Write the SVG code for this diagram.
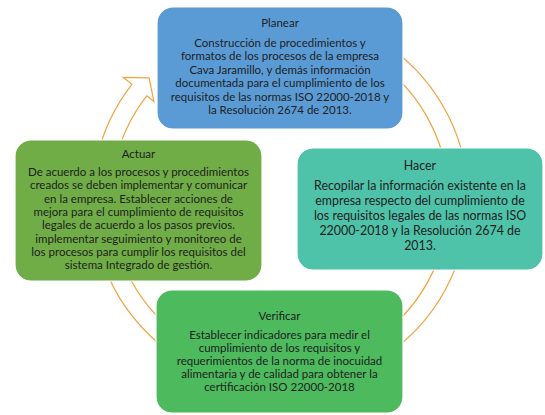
<svg xmlns="http://www.w3.org/2000/svg" width="545" height="415" viewBox="0 0 545 415">
<style>
.box{stroke:#ffffff;stroke-width:1.2}
.t{font-family:Lato,"Liberation Sans",sans-serif;fill:#1e1e1e;text-anchor:middle}
.s1{font-size:11.5px}
.s2{font-size:12.4px}
.ring{fill:#ffffff;stroke:#f4a340;stroke-width:1.2;stroke-linejoin:miter}
</style>
<rect width="545" height="415" fill="#ffffff"/>
<g id="connectors">
<path class="ring" d="M 215.7 23.3 A 188 188 0 1 1 131.9 84.3 L 123.2 77.5 L 149.1 77.9 L 153.9 101.5 L 146.8 95.9 A 169 169 0 1 0 222.2 41.2 Z"/>
</g>
<g id="planear">
<rect class="box" x="157" y="7" width="246" height="122" rx="16" fill="#5b9bd5"/>
<text class="t s1" x="280" y="27">Planear</text>
<text class="t s1" x="280" y="47">Construcción de procedimientos y</text>
<text class="t s1" x="280" y="60.4">formatos de los procesos de la empresa</text>
<text class="t s1" x="280" y="73.8">Cava Jaramillo, y demás información</text>
<text class="t s1" x="280" y="87.2">documentada para el cumplimiento de los</text>
<text class="t s1" x="280" y="100.6">requisitos de las normas ISO 22000-2018 y</text>
<text class="t s1" x="280" y="114">la Resolución 2674 de 2013.</text>
</g>
<g id="hacer">
<rect class="box" x="297" y="148" width="246" height="122" rx="16" fill="#4ec3aa"/>
<text class="t s2" x="420" y="170">Hacer</text>
<text class="t s2" x="420" y="190">Recopilar la información existente en la</text>
<text class="t s2" x="420" y="205">empresa respecto del cumplimiento de</text>
<text class="t s2" x="420" y="220">los requisitos legales de las normas ISO</text>
<text class="t s2" x="420" y="235">22000-2018 y la Resolución 2674 de</text>
<text class="t s2" x="420" y="250">2013.</text>
</g>
<g id="actuar">
<rect class="box" x="15" y="140" width="247" height="141" rx="16" fill="#70ad47"/>
<text class="t s1" x="138.5" y="158">Actuar</text>
<text class="t s1" x="138.5" y="176">De acuerdo a los procesos y procedimientos</text>
<text class="t s1" x="138.5" y="189.3">creados se deben implementar y comunicar</text>
<text class="t s1" x="138.5" y="202.6">en la empresa. Establecer acciones de</text>
<text class="t s1" x="138.5" y="215.9">mejora para el cumplimiento de requisitos</text>
<text class="t s1" x="138.5" y="229.2">legales de acuerdo  a los pasos previos.</text>
<text class="t s1" x="138.5" y="242.5">implementar seguimiento y monitoreo de</text>
<text class="t s1" x="138.5" y="255.8">los procesos para cumplir los requisitos del</text>
<text class="t s1" x="138.5" y="269.1">sistema Integrado de gestión.</text>
</g>
<g id="verificar">
<rect class="box" x="156" y="290" width="247" height="123" rx="16" fill="#4dba5e"/>
<text class="t s1" x="279.5" y="320">Verificar</text>
<text class="t s1" x="279.5" y="339">Establecer indicadores para medir el</text>
<text class="t s1" x="279.5" y="352">cumplimiento de los requisitos y</text>
<text class="t s1" x="279.5" y="365">requerimientos de la norma de inocuidad</text>
<text class="t s1" x="279.5" y="378">alimentaria y de calidad para obtener la</text>
<text class="t s1" x="279.5" y="391">certificación ISO 22000-2018</text>
</g>
</svg>
